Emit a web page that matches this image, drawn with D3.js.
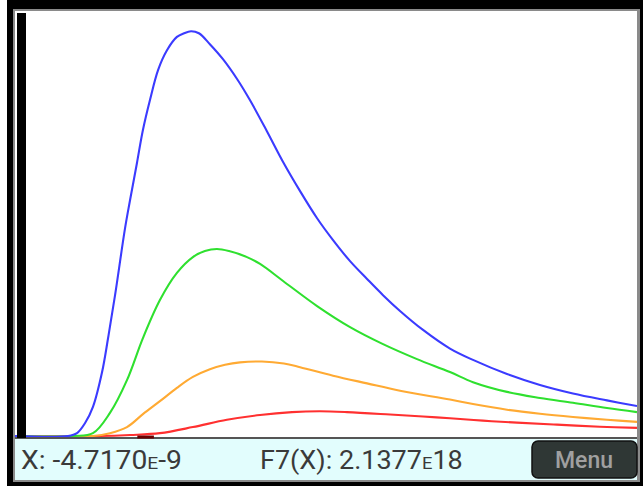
<!DOCTYPE html>
<html>
<head>
<meta charset="utf-8">
<script src="https://cdn.jsdelivr.net/npm/d3@7"></script>
<style>
  html, body { margin: 0; padding: 0; background: #fff; }
  svg { display: block; }
</style>
</head>
<body>
<svg id="chart" width="643" height="486"></svg>
<script>
// Planck-style curves: x = wavelength (nm), y = relative intensity (blue peak = 100)
const blue = [[0,0],[256,0],[299,0.7],[338,3.2],[376,7.2],[420,15.8],[449,24.2],[482,34.6],[531,51.4],[555,58.3],[588,67.4],[617,75.6],[651,83.0],[690,90.4],[733,95.3],[781,98.6],[815,99.5],[849,100],[887,99.5],[940,96.8],[1003,93.1],[1071,88.2],[1133,83.0],[1215,75.3],[1293,67.7],[1375,60.5],[1457,53.8],[1534,48.4],[1616,43.2],[1698,38.8],[1775,34.8],[1857,30.9],[1968,26.2],[2098,21.6],[2209,18.8],[2373,15.3],[2532,12.6],[2691,10.5],[2855,8.8],[3000,7.4]];
const green = [[0,0],[280,0],[376,0.7],[458,5.7],[540,13.8],[617,24.2],[699,33.6],[781,40.3],[858,44.2],[916,45.7],[974,46.2],[1032,45.7],[1119,44.2],[1182,42.5],[1293,38.3],[1457,32.1],[1616,26.9],[1775,22.7],[1939,19.0],[2098,15.8],[2209,13.3],[2373,10.9],[2532,9.4],[2691,8.2],[2855,6.9],[3000,5.9]];
const orange = [[0,0],[376,0],[458,0.7],[540,2.2],[617,5.4],[699,8.6],[781,11.9],[858,14.6],[940,16.5],[1013,17.6],[1085,18.2],[1191,18.4],[1297,17.9],[1375,17.0],[1534,14.9],[1698,13.0],[1857,11.2],[2098,9.0],[2209,7.9],[2373,6.5],[2532,5.5],[2691,4.7],[2855,4.0],[3000,3.5]];
const red = [[0,0],[410,0],[555,0.25],[699,0.7],[858,2.2],[1022,4.0],[1182,5.2],[1336,5.9],[1471,6.1],[1601,5.9],[1809,5.3],[1968,4.8],[2098,4.4],[2257,3.8],[2421,3.3],[2614,2.8],[2821,2.3],[3000,2.0]];
const seriesColors = ["#3b3bff", "#2fe02f", "#ffaa33", "#ff3030"];
const cursorX = [590, 670];           // trace cursor span on the axis (nm)
const statusX = ["X: -4.7170", "E", "-9"];
const statusF = ["F7(X): 2.1377", "E", "18"];

const svg = d3.select("#chart");
const L = 15, R = 637, T = 11, B = 436;
const x = d3.scaleLinear().domain([0, 3000]).range([L, R]);
const y = d3.scaleLinear().domain([0, 105]).range([B, T]);

// frame
svg.append("rect").attr("x", 0).attr("y", 0).attr("width", 643).attr("height", 486).attr("fill", "#fff");
svg.append("rect").attr("x", 7).attr("y", 0).attr("width", 636).attr("height", 486).attr("fill", "#000");
svg.append("rect").attr("x", 13).attr("y", 9).attr("width", 627).attr("height", 473).attr("fill", "#8a8a8a");
svg.append("rect").attr("x", 15).attr("y", 11).attr("width", 622).attr("height", 469).attr("fill", "#fff");

// status bar
svg.append("rect").attr("x", 15).attr("y", 439).attr("width", 622).attr("height", 41).attr("fill", "#e2fdfd");

// curves (clipped so the spline never dips under the axis)
svg.append("clipPath").attr("id", "plot").append("rect").attr("x", L).attr("y", T).attr("width", R - L).attr("height", B - T + 1.2);
const line = d3.line().x((d) => x(d[0])).y((d) => y(d[1])).curve(d3.curveCatmullRom.alpha(0.5));
const curves = svg.append("g").attr("clip-path", "url(#plot)");
[red, orange, green, blue].forEach((s, i) => {
  curves.append("path").datum(s).attr("fill", "none")
    .attr("stroke", seriesColors[3 - i]).attr("stroke-width", 2.1)
    .attr("stroke-linejoin", "round").attr("d", line);
});

// x axis + cursor
svg.append("line").attr("x1", L).attr("x2", R).attr("y1", 438).attr("y2", 438).attr("stroke", "#555").attr("stroke-width", 2);
svg.append("line").attr("x1", x(cursorX[0])).attr("x2", x(cursorX[1])).attr("y1", 437).attr("y2", 437)
  .attr("stroke", "#6a0000").attr("stroke-width", 3);
// y axis (thick)
svg.append("rect").attr("x", 17).attr("y", 13).attr("width", 9).attr("height", 425).attr("fill", "#000");

// status texts
function status(xp, parts, width) {
  const t = svg.append("text").attr("x", xp).attr("y", 469)
    .attr("font-family", "Roboto, 'Liberation Sans', sans-serif").attr("font-size", 25).attr("fill", "#3a3a3a");
  t.append("tspan").text(parts[0]);
  t.append("tspan").attr("font-size", 17).text(parts[1]);
  t.append("tspan").text(parts[2]);
  const w = t.node().getComputedTextLength();
  if (w) t.attr("transform", `translate(${xp},0) scale(${width / w},1) translate(${-xp},0)`);
}
status(21, statusX, 161);
status(260, statusF, 203);

// Menu button
svg.append("rect").attr("x", 532).attr("y", 441).attr("width", 105).attr("height", 37).attr("rx", 6)
  .attr("fill", "#2f3735").attr("stroke", "#111").attr("stroke-width", 1.5);
svg.append("text").attr("x", 584).attr("y", 468).attr("text-anchor", "middle")
  .attr("font-family", "Roboto, 'Liberation Sans', sans-serif").attr("font-size", 23).attr("font-weight", 500)
  .attr("fill", "#a0a0a0").text("Menu");
</script>
</body>
</html>
